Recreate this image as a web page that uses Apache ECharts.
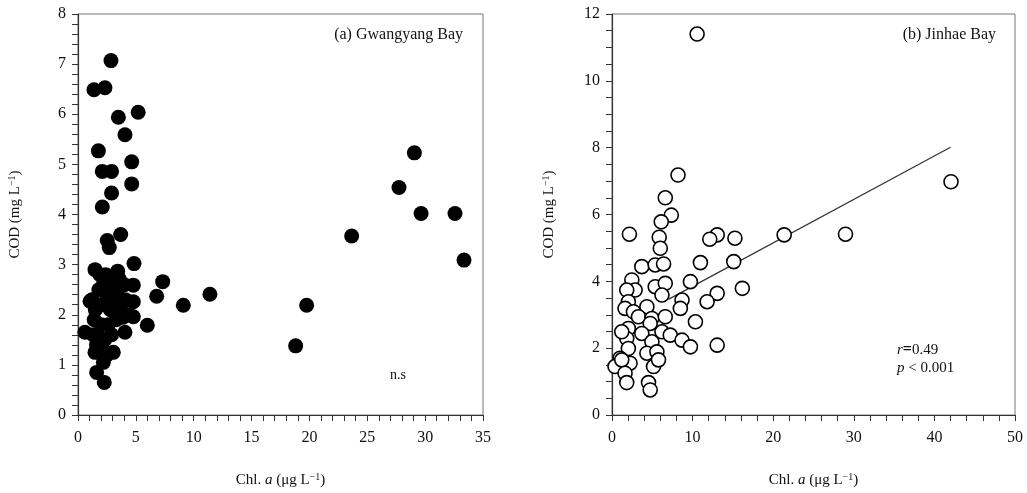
<!DOCTYPE html>
<html>
<head>
<meta charset="utf-8">
<script src="https://cdn.jsdelivr.net/npm/echarts@6/dist/echarts.min.js"></script>
<style>
  html, body { margin: 0; padding: 0; background: #fff; }
  #chart { width: 1027px; height: 493px; }
</style>
</head>
<body>
<div id="chart"></div>
<script>
// (a) Gwangyang Bay - Chl. a vs COD
const gwangyangChl = [
  2.85, 1.38, 2.33, 3.49, 5.2, 4.06, 1.76, 4.64, 2.1, 2.9, 4.64, 2.9, 2.1,
  2.53, 3.69, 2.7, 1.47, 3.43, 4.84, 3.57, 7.32, 6.8, 11.4, 9.1, 5.99, 4.06, 0.6,
  4.78, 4.78, 4.78, 1.04, 1.61, 2.27, 3.05, 1.47, 2.19,
  29.07, 27.74, 29.65, 32.58, 23.65, 33.36, 19.76, 18.81,
  1.2, 1.5, 1.8, 2.0, 2.2, 2.5, 2.8, 3.1, 3.4, 3.7, 4.1, 4.4, 1.4, 1.7, 2.0,
  2.3, 2.6, 2.9, 3.3, 3.6, 1.6, 2.1, 2.5, 1.9, 2.4, 3.0, 1.3, 2.7, 4.0, 3.9
]
const gwangyangCod = [
  7.07, 6.49, 6.53, 5.94, 6.04, 5.59, 5.27, 5.05, 4.86, 4.86, 4.61, 4.43, 4.15,
  3.48, 3.6, 3.34, 2.9, 2.87, 3.02, 2.71, 2.66, 2.37, 2.41, 2.19, 1.79, 1.65, 1.65,
  2.59, 2.26, 1.96, 2.27, 0.85, 0.65, 1.25, 1.25, 1.05,
  5.23, 4.54, 4.02, 4.02, 3.57, 3.09, 2.19, 1.38,
  2.3, 2.1, 2.5, 2.2, 2.6, 2.4, 2.1, 2.3, 2.5, 2.2, 2.3, 2.0, 1.9, 1.6, 1.8,
  1.5, 1.8, 1.6, 1.9, 2.0, 1.4, 1.3, 1.2, 2.8, 2.8, 2.7, 1.6, 2.6, 2.6, 1.95
]

// (b) Jinhae Bay - Chl. a vs COD
const jinhaeChl = [
  10.56, 42.06, 8.19, 6.61, 7.36, 6.11, 2.16, 5.86, 13.05, 12.13, 15.25, 21.36, 28.97,
  5.99, 3.7, 5.36, 6.4, 10.97, 15.1, 2.46, 2.87, 1.83, 5.36, 6.61, 9.73, 6.2, 13.05,
  11.8, 16.17, 8.69, 8.48, 2.03, 1.62, 2.66, 4.33, 3.28, 4.95, 6.61, 10.35, 2.03,
  4.74, 6.2, 7.23, 3.7, 1.83, 1.21, 4.95, 8.69, 9.73, 13.05, 2.03, 4.33, 5.57, 1.0,
  2.24, 0.37, 1.21, 5.15, 5.77, 1.62, 1.83, 4.53, 4.74
]
const jinhaeCod = [
  11.4, 6.98, 7.18, 6.5, 5.98, 5.78, 5.41, 5.32, 5.39, 5.26, 5.29, 5.39, 5.41,
  4.99, 4.44, 4.49, 4.52, 4.56, 4.59, 4.04, 3.74, 3.74, 3.84, 3.94, 3.99, 3.59, 3.64,
  3.39, 3.79, 3.44, 3.19, 3.39, 3.19, 3.09, 3.24, 2.94, 2.89, 2.94, 2.79, 2.59,
  2.74, 2.49, 2.39, 2.44, 2.29, 2.49, 2.19, 2.24, 2.04, 2.09, 1.99, 1.85, 1.89, 1.7,
  1.55, 1.45, 1.65, 1.45, 1.65, 1.25, 0.97, 0.97, 0.75
]

// regression for Jinhae Bay
const fitSlope = 0.130
const fitIntercept = 2.55
const fitRange = [7, 42]

const serif = '"Liberation Serif", "Times New Roman", serif'
const axisColor = '#333'

function zip(xs, ys) {
  return xs.map((x, i) => [x, ys[i]])
}

const nameRich = {
  n: { fontFamily: serif, fontSize: 15, color: '#111' },
  i: { fontFamily: serif, fontSize: 15, fontStyle: 'italic', color: '#111' },
  s: { fontFamily: serif, fontSize: 10, color: '#111', verticalAlign: 'top', padding: [0, 0, 7, 0] }
}

function valueAxis(opt) {
  return Object.assign({
    type: 'value',
    axisLine: { show: true, lineStyle: { color: axisColor, width: 1.2 } },
    axisTick: { show: true, inside: false, length: 6, lineStyle: { color: axisColor } },
    splitLine: { show: false },
    nameLocation: 'middle',
    nameTextStyle: { rich: nameRich }
  }, opt)
}

function ticks(split) {
  return { show: true, splitNumber: split, length: 6, lineStyle: { color: axisColor } }
}

const xLabel = { color: '#111', fontFamily: serif, fontSize: 16, margin: 15 }
const yLabel = { color: '#111', fontFamily: serif, fontSize: 16, margin: 12 }

const chart = echarts.init(document.getElementById('chart'))
chart.setOption({
  animation: false,
  backgroundColor: '#fff',
  grid: [
    { left: 78, top: 14, width: 405, height: 402, show: true, borderColor: '#777', borderWidth: 1 },
    { left: 612, top: 14, width: 403, height: 401, show: true, borderColor: '#777', borderWidth: 1 }
  ],
  xAxis: [
    valueAxis({
      gridIndex: 0, min: 0, max: 35, interval: 5,
      minorTick: ticks(5),
      axisLabel: xLabel,
      name: '{n|Chl. }{i|a}{n| (μg L}{s|−1}{n|)}',
      nameGap: 57
    }),
    valueAxis({
      gridIndex: 1, min: 0, max: 50, interval: 10,
      minorTick: ticks(5),
      axisLabel: xLabel,
      name: '{n|Chl. }{i|a}{n| (μg L}{s|−1}{n|)}',
      nameGap: 57
    })
  ],
  yAxis: [
    valueAxis({
      gridIndex: 0, min: 0, max: 8, interval: 1,
      minorTick: ticks(5),
      axisLabel: yLabel,
      name: '{n|COD (mg L}{s|−1}{n|)}',
      nameGap: 54
    }),
    valueAxis({
      gridIndex: 1, min: 0, max: 12, interval: 2,
      minorTick: ticks(4),
      axisLabel: yLabel,
      name: '{n|COD (mg L}{s|−1}{n|)}',
      nameGap: 54
    })
  ],
  series: [
    {
      type: 'scatter',
      xAxisIndex: 0,
      yAxisIndex: 0,
      symbol: 'circle',
      symbolSize: 15,
      itemStyle: { color: '#000', opacity: 1 },
      data: zip(gwangyangChl, gwangyangCod)
    },
    {
      type: 'line',
      xAxisIndex: 1,
      yAxisIndex: 1,
      symbol: 'none',
      lineStyle: { color: '#333', width: 1.2 },
      data: fitRange.map(x => [x, fitIntercept + fitSlope * x]),
      z: 1
    },
    {
      type: 'scatter',
      xAxisIndex: 1,
      yAxisIndex: 1,
      symbol: 'circle',
      symbolSize: 14,
      itemStyle: { color: '#fff', borderColor: '#000', borderWidth: 1.6, opacity: 1 },
      data: zip(jinhaeChl, jinhaeCod),
      z: 3
    }
  ],
  graphic: [
    {
      type: 'text', right: 1027 - 463, top: 27,
      style: { text: '(a) Gwangyang Bay', font: '16px ' + serif, fill: '#111' }
    },
    {
      type: 'text', right: 1027 - 996, top: 27,
      style: { text: '(b) Jinhae Bay', font: '16px ' + serif, fill: '#111' }
    },
    {
      type: 'text', left: 390, top: 368,
      style: { text: 'n.s', font: '14px ' + serif, fill: '#111' }
    },
    {
      type: 'text', left: 897, top: 342,
      style: {
        text: '{i|r}{b|=}{n|0.49}\n{i|p}{n| < 0.001}',
        rich: {
          n: { fontFamily: serif, fontSize: 15, fill: '#111', lineHeight: 18 },
          i: { fontFamily: serif, fontSize: 15, fontStyle: 'italic', fill: '#111', lineHeight: 18 },
          b: { fontFamily: serif, fontSize: 16, fontWeight: 'bold', fill: '#111', lineHeight: 18 }
        }
      }
    }
  ]
})
</script>
</body>
</html>
